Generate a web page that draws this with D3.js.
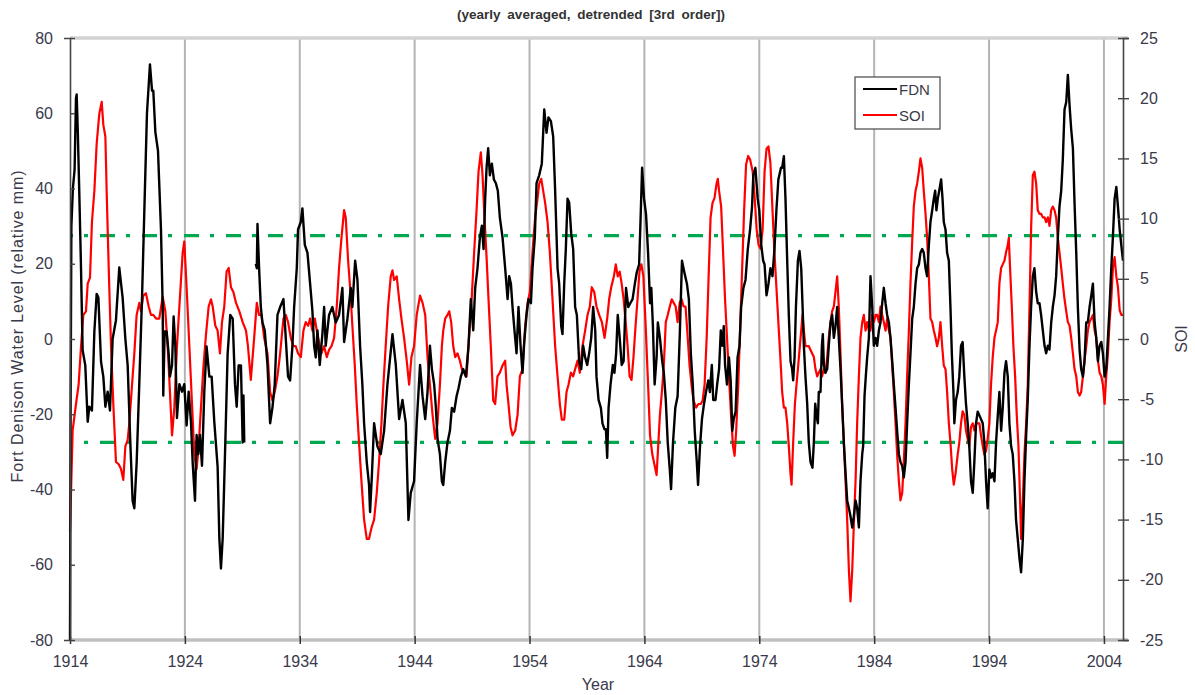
<!DOCTYPE html>
<html>
<head>
<meta charset="utf-8">
<script src="https://cdn.jsdelivr.net/npm/d3@7"></script>
<style>
  html, body { margin: 0; padding: 0; background: #fff; }
  svg { display: block; font-family: "Liberation Sans", Arial, sans-serif; }
</style>
</head>
<body>
<svg id="chart" width="1195" height="695"></svg>
<script>
// Fort Denison water level (mm, left axis), 12-month running mean, detrended
const fdnSeries = [
[1914.00,-80],[1914.05,-20],[1914.12,30],[1914.25,40],[1914.40,45],[1914.52,64],[1914.58,65],[1914.68,55],[1914.80,40],[1914.95,20],[1915.10,-3],[1915.33,-7],[1915.54,-22],[1915.68,-18],[1915.91,-19],[1916.12,2],[1916.32,12],[1916.47,11],[1916.70,-6],[1916.90,-10],[1917.08,-18],[1917.28,-14],[1917.48,-19],[1917.71,0],[1918.00,5],[1918.29,19],[1918.58,11],[1918.82,0],[1919.02,-7],[1919.25,-27.5],[1919.45,-43],[1919.60,-45],[1919.80,-33],[1920.03,-12],[1920.27,11],[1920.47,34],[1920.70,60],[1920.96,73],[1921.14,66],[1921.25,66],[1921.43,55],[1921.66,50],[1921.92,29],[1922.07,8.5],[1922.12,-15],[1922.24,2],[1922.41,2],[1922.59,-4],[1922.70,-10],[1922.88,-7],[1923.02,6],[1923.17,-2],[1923.31,-21],[1923.52,-12],[1923.75,-14],[1923.95,-12],[1924.15,-23],[1924.33,-14],[1924.53,-22],[1924.68,-33],[1924.88,-43],[1925.02,-25.5],[1925.17,-30.6],[1925.31,-25.5],[1925.49,-33.7],[1925.69,-14],[1925.89,-2],[1926.13,-10],[1926.33,-10],[1926.56,-22],[1926.85,-34],[1927.00,-53],[1927.14,-61],[1927.29,-53],[1927.52,-27.5],[1927.72,-4],[1927.95,6.4],[1928.16,5.4],[1928.36,-12],[1928.51,-18],[1928.68,-7],[1928.88,-7],[1929.03,-27.5],[1929.10,-15],[1929.17,-27.5],
[1929.60,null],
[1930.17,20],[1930.26,18.8],[1930.32,30.6],[1930.46,18.8],[1930.61,8.5],[1930.75,4.4],[1930.95,2.3],[1931.19,-6.9],[1931.42,-22.4],[1931.62,-18.3],[1931.82,-12.1],[1932.06,6.4],[1932.29,8.5],[1932.58,10.6],[1932.78,0.3],[1932.98,-10],[1933.16,-11],[1933.36,-1.8],[1933.51,8.5],[1933.74,18.8],[1933.85,29.1],[1934.09,31.1],[1934.23,34.7],[1934.44,25],[1934.67,22.9],[1934.90,14.7],[1935.10,7.5],[1935.25,-1.8],[1935.39,-4.9],[1935.54,2.3],[1935.74,-6.9],[1935.97,1.3],[1936.12,8.5],[1936.26,-1.8],[1936.55,6.4],[1936.84,8.5],[1937.13,4.4],[1937.42,6.4],[1937.71,13.6],[1937.86,-0.8],[1938.15,5.4],[1938.44,13.6],[1938.58,8.5],[1938.82,20.8],[1939.02,15.7],[1939.25,-1.8],[1939.45,-12.1],[1939.60,-22.4],[1939.83,-32.7],[1940.03,-38.8],[1940.12,-46],[1940.27,-36.8],[1940.47,-22.4],[1940.76,-28.5],[1941.05,-30.6],[1941.34,-24.4],[1941.63,-12.1],[1942.07,1.3],[1942.36,-6.9],[1942.65,-21.3],[1942.94,-16.2],[1943.23,-22.4],[1943.46,-48.1],[1943.66,-40.9],[1943.95,-37.8],[1944.18,-22.4],[1944.47,-6.9],[1944.69,-15.2],[1944.92,-21.3],[1945.12,-14.1],[1945.33,-1.8],[1945.50,-8],[1945.70,-12.1],[1945.85,-18.3],[1945.99,-26.5],[1946.20,-30.6],[1946.37,-37.8],[1946.49,-38.8],[1946.66,-32.7],[1946.86,-27.5],[1947.07,-24.4],[1947.24,-18.3],[1947.44,-19.3],[1947.65,-15.2],[1947.82,-13.1],[1948.02,-10],[1948.23,-8],[1948.46,-10],[1948.69,-1.8],[1948.89,10.6],[1949.10,2.3],[1949.27,13.6],[1949.47,18.8],[1949.68,27],[1949.85,30.1],[1950.00,23.9],[1950.14,37.3],[1950.26,45.5],[1950.40,50.7],[1950.55,43.5],[1950.72,46.6],[1950.90,42.4],[1951.07,41.4],[1951.24,39.4],[1951.42,32.2],[1951.65,27],[1951.88,18.8],[1952.09,10.6],[1952.23,16.7],[1952.38,14.7],[1952.52,8.5],[1952.69,2.3],[1952.87,-3.8],[1953.04,8.5],[1953.22,-1.8],[1953.39,-9],[1953.54,-0.8],[1953.74,6.4],[1953.91,10.6],[1954.12,9.5],[1954.26,18.8],[1954.46,27],[1954.61,41.4],[1954.84,43.5],[1955.07,46.6],[1955.28,61],[1955.48,54.8],[1955.65,58.9],[1955.86,57.9],[1956.06,53.8],[1956.23,39.4],[1956.44,18.8],[1956.58,14.7],[1956.76,3.4],[1956.87,1.3],[1957.02,14.7],[1957.16,23.9],[1957.31,37.3],[1957.45,36.3],[1957.63,28],[1957.80,23.9],[1957.97,8.5],[1958.12,6.4],[1958.32,-5.9],[1958.50,-8],[1958.67,-1.8],[1958.84,-4.9],[1959.02,-6.9],[1959.19,-3.8],[1959.37,0.3],[1959.54,8.5],[1959.72,2.3],[1959.83,-10],[1960.01,-16.2],[1960.21,-18.3],[1960.35,-22.4],[1960.53,-24],[1960.65,-24],[1960.76,-31.6],[1960.88,-18.3],[1961.05,-12.1],[1961.25,-6.9],[1961.39,-9],[1961.54,-3.8],[1961.68,6.4],[1961.85,0.3],[1962.02,-6.9],[1962.19,-5.9],[1962.40,13.6],[1962.60,8.5],[1962.77,9.5],[1962.97,10.6],[1963.17,14.7],[1963.34,17.8],[1963.54,19.8],[1963.68,33.2],[1963.80,45.5],[1963.97,37.3],[1964.14,33.2],[1964.32,22.9],[1964.49,9.5],[1964.60,13.6],[1964.74,3.4],[1964.89,-12.1],[1965.06,-4.9],[1965.17,4.4],[1965.35,0.3],[1965.55,-5.9],[1965.69,-9],[1965.86,-16.2],[1966.03,-27.5],[1966.21,-34.7],[1966.32,-39.9],[1966.49,-27.5],[1966.69,-18.3],[1966.89,-15.2],[1967.07,0.3],[1967.27,20.8],[1967.47,17.8],[1967.70,14.7],[1967.87,10.6],[1968.04,-3.8],[1968.21,-12.1],[1968.38,-24.4],[1968.56,-32.7],[1968.67,-38.8],[1968.84,-28.5],[1969.01,-21.3],[1969.19,-17.2],[1969.36,-14.1],[1969.56,-11],[1969.70,-14.1],[1969.87,-6.9],[1969.99,-16.2],[1970.19,-16.2],[1970.33,-12.1],[1970.50,-8],[1970.65,2.3],[1970.79,-1.8],[1970.91,3.4],[1971.02,-6.9],[1971.19,-12.1],[1971.36,-4.9],[1971.51,-11],[1971.65,-24.4],[1971.77,-21.3],[1971.94,-19.3],[1972.11,-4.9],[1972.28,-1.8],[1972.42,8.5],[1972.62,13.6],[1972.80,15.7],[1973.00,23.9],[1973.20,29.1],[1973.37,35.2],[1973.48,43.5],[1973.66,45.5],[1973.86,37.3],[1974.00,34.2],[1974.17,25],[1974.34,20.8],[1974.46,19.8],[1974.63,11.6],[1974.80,14.7],[1974.97,18.8],[1975.15,16.7],[1975.32,23.9],[1975.49,34.2],[1975.66,42.4],[1975.89,45.5],[1975.99,45.5],[1976.14,48.6],[1976.28,37.3],[1976.43,20.8],[1976.57,6.4],[1976.72,-5.9],[1976.86,-8],[1976.95,-11],[1977.07,-4.9],[1977.19,8.5],[1977.36,20.8],[1977.50,23.4],[1977.65,18.8],[1977.77,8.5],[1977.88,-1.8],[1978.02,-10],[1978.17,-17.2],[1978.31,-27.5],[1978.46,-32.7],[1978.63,-34.2],[1978.75,-27.5],[1978.87,-17.2],[1978.98,-20.3],[1979.10,-22.4],[1979.18,-14.1],[1979.33,-14.1],[1979.45,-1.8],[1979.53,1.3],[1979.62,-6.9],[1979.76,-9],[1979.91,-8],[1980.05,-1.8],[1980.20,4.4],[1980.34,6.4],[1980.49,0.3],[1980.63,3.4],[1980.78,8.5],[1980.92,0.3],[1981.07,-8],[1981.21,-17.2],[1981.36,-27.5],[1981.51,-35.7],[1981.65,-42.9],[1981.80,-45],[1981.94,-47.1],[1982.09,-50.1],[1982.23,-47.1],[1982.38,-42.9],[1982.52,-45],[1982.67,-50.1],[1982.81,-37.8],[1982.96,-30.6],[1983.04,-28.5],[1983.16,-15.2],[1983.27,-10],[1983.39,-4.9],[1983.54,0.3],[1983.68,16.7],[1983.83,8.5],[1983.97,-1.8],[1984.12,0.3],[1984.26,-1.8],[1984.41,2.3],[1984.55,4.4],[1984.70,9.5],[1984.84,13.6],[1984.99,9.5],[1985.13,6.4],[1985.28,4.4],[1985.42,0.3],[1985.57,-5.9],[1985.71,-12.1],[1985.86,-18.3],[1986.00,-24.4],[1986.15,-30.6],[1986.29,-32.7],[1986.44,-33.7],[1986.58,-36.8],[1986.73,-32.7],[1986.87,-22.4],[1987.02,-12.1],[1987.16,-3.8],[1987.31,5.4],[1987.45,8.5],[1987.60,14.7],[1987.74,18.8],[1987.89,19.8],[1988.03,22.9],[1988.18,23.9],[1988.32,22.9],[1988.47,18.8],[1988.61,16.7],[1988.76,25],[1988.90,31.1],[1989.05,34.2],[1989.19,37.3],[1989.31,39.4],[1989.42,34.2],[1989.54,37.3],[1989.72,40.4],[1989.83,42.4],[1989.95,37.3],[1990.06,31.1],[1990.21,29.1],[1990.35,22.9],[1990.50,20.8],[1990.64,8.5],[1990.76,-3.8],[1990.90,-14.1],[1990.98,-22.4],[1991.12,-16.2],[1991.27,-14.1],[1991.41,-10],[1991.56,-1.8],[1991.70,-0.8],[1991.85,-10],[1991.99,-17.2],[1992.14,-22.4],[1992.28,-28.5],[1992.43,-37.8],[1992.58,-40.9],[1992.72,-32.7],[1992.87,-22.4],[1993.01,-19.3],[1993.16,-20.3],[1993.30,-21.3],[1993.45,-22.4],[1993.59,-27.5],[1993.74,-37.8],[1993.88,-45],[1994.03,-34.7],[1994.17,-36.8],[1994.32,-35.7],[1994.47,-37.8],[1994.61,-27.5],[1994.76,-20.3],[1994.90,-14.1],[1995.05,-24.4],[1995.19,-18.3],[1995.34,-9],[1995.48,-5.9],[1995.63,-10],[1995.77,-22.4],[1995.92,-28.5],[1996.06,-30.6],[1996.21,-37.8],[1996.35,-48.1],[1996.50,-53.2],[1996.65,-58.4],[1996.79,-62],[1996.94,-53.2],[1997.08,-37.8],[1997.23,-25.5],[1997.37,-16.2],[1997.52,-1.8],[1997.66,8.5],[1997.81,16.7],[1997.95,18.8],[1998.10,12.6],[1998.24,9.5],[1998.39,9.5],[1998.53,6.4],[1998.68,2.3],[1998.83,-1.8],[1998.97,-3.8],[1999.12,-1.8],[1999.26,-2.8],[1999.41,4.4],[1999.55,8.5],[1999.70,11.6],[1999.84,16.7],[1999.99,27],[2000.13,35.2],[2000.28,39.4],[2000.42,47.6],[2000.57,61],[2000.72,63],[2000.86,70.2],[2001.01,62],[2001.15,55.8],[2001.30,50.7],[2001.44,36.3],[2001.59,22.9],[2001.73,8.5],[2001.88,-2.8],[2002.02,-8],[2002.17,-10],[2002.31,-5.9],[2002.46,4.4],[2002.60,4.4],[2002.75,8.5],[2002.90,11.6],[2003.04,14.7],[2003.19,4.4],[2003.33,0.3],[2003.48,-5.9],[2003.62,-1.8],[2003.77,-0.8],[2003.91,-3.8],[2004.06,-10],[2004.20,-8],[2004.35,0.3],[2004.49,8.5],[2004.64,18.8],[2004.78,27],[2004.93,37.3],[2005.08,40.4],[2005.22,35.2],[2005.37,29.1],[2005.51,25],[2005.66,20.8]
];

// Southern Oscillation Index (right axis), 12-month running mean, detrended
const soiSeries = [
[1914.00,-16.0],[1914.23,-7.6],[1914.52,-5.4],[1914.75,-3.8],[1914.96,-0.6],[1915.16,2.0],[1915.39,2.3],[1915.54,4.6],[1915.74,5.1],[1915.91,9.7],[1916.12,12.3],[1916.32,16.2],[1916.55,18.7],[1916.76,19.7],[1916.90,17.8],[1917.08,16.8],[1917.19,12.3],[1917.37,5.9],[1917.57,-0.6],[1917.77,-5.4],[1918.00,-10.2],[1918.24,-10.4],[1918.44,-10.8],[1918.64,-11.7],[1918.82,-8.9],[1919.02,-8.4],[1919.16,-7.0],[1919.40,-3.8],[1919.60,-1.2],[1919.80,2.0],[1920.03,3.0],[1920.18,2.3],[1920.38,3.6],[1920.61,3.8],[1920.85,2.7],[1921.05,2.0],[1921.25,2.0],[1921.49,1.7],[1921.77,1.7],[1922.07,3.5],[1922.30,2.3],[1922.50,-0.6],[1922.70,-4.4],[1922.88,-8.0],[1923.08,-5.7],[1923.31,-0.6],[1923.52,2.7],[1923.81,7.2],[1923.95,8.1],[1924.15,4.3],[1924.39,-0.6],[1924.62,-5.4],[1924.82,-9.6],[1925.02,-10.8],[1925.20,-8.9],[1925.40,-5.7],[1925.60,-2.5],[1925.84,0.4],[1926.07,2.7],[1926.27,3.3],[1926.42,2.7],[1926.65,1.1],[1926.85,0.7],[1927.05,-1.2],[1927.23,1.4],[1927.43,2.7],[1927.63,5.6],[1927.81,5.9],[1928.01,4.3],[1928.22,3.9],[1928.45,3.0],[1928.74,2.3],[1929.03,1.4],[1929.32,0.7],[1929.49,-0.6],[1929.74,-3.4],[1930.03,0.1],[1930.26,3.0],[1930.46,2.0],[1930.66,2.0],[1930.90,0.1],[1931.19,-1.2],[1931.42,-4.4],[1931.62,-5.1],[1931.82,-4.4],[1932.06,-3.1],[1932.29,-1.2],[1932.58,1.7],[1932.78,2.0],[1932.98,1.4],[1933.22,0.1],[1933.45,-0.6],[1933.65,-0.6],[1933.85,-1.2],[1934.09,-1.5],[1934.32,0.7],[1934.52,1.4],[1934.73,1.1],[1934.90,1.7],[1935.10,0.7],[1935.31,1.7],[1935.48,0.7],[1935.68,-0.3],[1935.89,-1.2],[1936.12,-0.6],[1936.35,-1.5],[1936.55,-0.9],[1936.76,-0.6],[1936.99,0.1],[1937.22,2.7],[1937.42,5.9],[1937.63,8.4],[1937.86,10.7],[1938.00,10.1],[1938.21,6.5],[1938.38,4.3],[1938.58,1.1],[1938.79,-2.2],[1938.96,-5.4],[1939.16,-8.6],[1939.37,-11.8],[1939.60,-15.0],[1939.83,-16.6],[1940.03,-16.6],[1940.24,-15.7],[1940.47,-15.0],[1940.70,-12.8],[1940.90,-10.2],[1941.11,-7.0],[1941.28,-3.8],[1941.48,-0.6],[1941.69,2.7],[1941.92,5.2],[1942.07,5.7],[1942.21,4.9],[1942.44,5.2],[1942.65,3.3],[1942.85,1.7],[1943.08,0.1],[1943.31,-1.8],[1943.52,-3.8],[1943.72,-1.5],[1943.95,-0.6],[1944.18,2.0],[1944.47,3.6],[1944.69,3.0],[1944.92,2.0],[1945.12,-1.5],[1945.33,-3.8],[1945.56,-6.3],[1945.79,-8.3],[1945.99,-7.0],[1946.20,-3.8],[1946.37,-0.6],[1946.49,0.7],[1946.66,1.7],[1946.86,2.0],[1947.01,2.3],[1947.18,1.4],[1947.36,-0.6],[1947.53,-1.5],[1947.73,-1.2],[1947.94,-1.8],[1948.11,-2.5],[1948.31,-2.8],[1948.52,-3.1],[1948.75,0.4],[1948.98,3.6],[1949.18,7.2],[1949.39,10.7],[1949.56,13.9],[1949.76,15.5],[1949.91,13.6],[1950.08,10.1],[1950.26,6.8],[1950.43,3.3],[1950.63,-0.6],[1950.84,-5.1],[1951.01,-5.4],[1951.21,-3.1],[1951.42,-2.8],[1951.65,-2.2],[1951.88,-1.8],[1952.00,-3.8],[1952.17,-5.4],[1952.35,-7.3],[1952.52,-8.0],[1952.75,-7.6],[1952.96,-6.3],[1953.16,-3.1],[1953.39,-2.5],[1953.62,1.1],[1953.83,3.0],[1954.03,3.9],[1954.26,7.2],[1954.49,10.1],[1954.70,11.7],[1954.84,12.9],[1955.02,13.3],[1955.19,12.3],[1955.36,11.3],[1955.57,9.7],[1955.77,7.2],[1956.00,3.3],[1956.23,-0.6],[1956.44,-3.1],[1956.64,-5.4],[1956.81,-6.7],[1957.02,-6.7],[1957.22,-4.4],[1957.39,-3.8],[1957.60,-2.8],[1957.80,-3.1],[1957.97,-2.5],[1958.18,-1.8],[1958.38,-2.8],[1958.61,-0.6],[1958.84,0.7],[1959.05,2.0],[1959.25,2.7],[1959.42,4.3],[1959.63,3.9],[1959.83,2.7],[1960.06,2.0],[1960.30,1.4],[1960.53,0.1],[1960.76,1.7],[1960.93,3.3],[1961.11,4.3],[1961.34,5.2],[1961.51,6.2],[1961.68,5.2],[1961.85,5.6],[1962.02,4.6],[1962.19,3.3],[1962.37,1.4],[1962.54,-0.6],[1962.71,-3.1],[1962.88,-3.4],[1963.05,-1.5],[1963.23,1.1],[1963.40,3.3],[1963.57,5.6],[1963.74,6.2],[1963.91,5.2],[1964.11,1.1],[1964.32,-3.8],[1964.49,-8.0],[1964.69,-9.6],[1964.89,-10.5],[1965.06,-11.3],[1965.20,-8.9],[1965.35,-6.3],[1965.52,-4.4],[1965.69,-2.2],[1965.86,1.4],[1966.03,2.0],[1966.21,2.7],[1966.38,3.3],[1966.55,3.0],[1966.72,2.7],[1966.89,1.4],[1967.07,3.0],[1967.24,3.3],[1967.41,2.7],[1967.58,2.7],[1967.75,0.4],[1967.93,-2.2],[1968.10,-3.8],[1968.27,-5.1],[1968.50,-5.7],[1968.70,-5.4],[1968.90,-5.4],[1969.07,-5.1],[1969.24,-3.8],[1969.42,0.1],[1969.59,5.2],[1969.76,10.1],[1969.93,11.3],[1970.10,11.7],[1970.28,12.9],[1970.39,13.3],[1970.50,12.3],[1970.68,11.0],[1970.85,7.2],[1971.02,3.3],[1971.19,0.1],[1971.36,-3.1],[1971.54,-6.3],[1971.71,-8.9],[1971.85,-9.7],[1971.99,-7.6],[1972.17,-3.8],[1972.34,1.1],[1972.51,5.9],[1972.68,10.7],[1972.85,14.5],[1973.03,15.2],[1973.20,14.9],[1973.43,13.9],[1973.60,11.7],[1973.77,9.1],[1973.94,7.8],[1974.11,7.5],[1974.29,9.1],[1974.46,13.9],[1974.63,15.8],[1974.80,16.0],[1974.97,14.6],[1975.15,10.7],[1975.32,7.2],[1975.49,4.3],[1975.66,1.4],[1975.85,-1.8],[1975.99,-4.4],[1976.14,-5.7],[1976.28,-5.7],[1976.43,-7.0],[1976.57,-8.9],[1976.72,-11.2],[1976.81,-12.1],[1976.95,-8.6],[1977.10,-5.4],[1977.24,-3.8],[1977.36,-2.5],[1977.53,-0.6],[1977.65,0.7],[1977.76,2.0],[1977.88,0.7],[1978.02,-0.6],[1978.31,-0.6],[1978.60,-1.2],[1978.75,-1.5],[1978.89,-2.5],[1979.04,-3.1],[1979.18,-2.8],[1979.33,-2.5],[1979.47,-3.1],[1979.62,-2.5],[1979.76,-2.8],[1979.91,-1.5],[1980.05,0.1],[1980.20,1.4],[1980.34,2.3],[1980.49,2.7],[1980.63,3.9],[1980.78,5.2],[1980.92,2.7],[1981.07,-1.2],[1981.21,-5.4],[1981.36,-8.6],[1981.51,-11.8],[1981.65,-15.0],[1981.80,-19.2],[1981.94,-21.8],[1982.09,-19.2],[1982.23,-15.4],[1982.38,-11.8],[1982.52,-7.0],[1982.67,-3.1],[1982.81,0.1],[1982.96,1.4],[1983.10,2.0],[1983.25,0.7],[1983.39,1.4],[1983.54,0.7],[1983.68,0.7],[1983.83,2.0],[1983.97,1.4],[1984.12,2.0],[1984.26,2.0],[1984.41,1.4],[1984.55,2.7],[1984.70,2.0],[1984.84,1.4],[1984.99,0.7],[1985.13,1.7],[1985.28,0.7],[1985.42,0.1],[1985.57,-2.2],[1985.71,-4.4],[1985.86,-7.0],[1986.00,-9.6],[1986.15,-11.8],[1986.29,-13.4],[1986.44,-12.8],[1986.58,-10.2],[1986.73,-7.0],[1986.87,-3.1],[1987.02,0.7],[1987.16,4.6],[1987.31,8.1],[1987.45,11.0],[1987.60,12.3],[1987.74,12.9],[1987.89,13.9],[1988.03,15.0],[1988.18,14.2],[1988.32,12.3],[1988.47,10.4],[1988.61,8.4],[1988.76,5.2],[1988.90,1.7],[1989.05,1.4],[1989.19,0.7],[1989.34,0.1],[1989.48,-0.6],[1989.63,0.1],[1989.77,1.4],[1989.92,-0.6],[1990.06,-2.2],[1990.21,-2.5],[1990.35,-4.4],[1990.50,-7.0],[1990.64,-8.6],[1990.79,-10.8],[1990.93,-12.1],[1991.08,-11.2],[1991.27,-9.6],[1991.41,-8.6],[1991.56,-7.0],[1991.70,-6.0],[1991.85,-6.3],[1991.99,-7.6],[1992.14,-8.3],[1992.28,-8.9],[1992.43,-7.3],[1992.58,-7.0],[1992.72,-7.6],[1992.87,-7.0],[1993.16,-7.0],[1993.30,-8.0],[1993.45,-8.9],[1993.59,-9.6],[1993.74,-9.3],[1993.88,-8.3],[1994.03,-7.0],[1994.17,-3.8],[1994.32,-1.5],[1994.47,0.1],[1994.61,0.7],[1994.76,1.4],[1994.90,4.6],[1995.05,5.9],[1995.19,6.2],[1995.34,6.5],[1995.48,7.2],[1995.63,7.8],[1995.72,8.4],[1995.83,5.9],[1995.98,2.7],[1996.12,-0.6],[1996.27,-3.1],[1996.41,-6.3],[1996.56,-8.9],[1996.70,-13.4],[1996.79,-16.6],[1996.94,-13.4],[1997.08,-9.6],[1997.23,-7.0],[1997.37,-3.8],[1997.52,2.7],[1997.66,9.1],[1997.81,13.6],[1997.95,13.9],[1998.10,12.9],[1998.24,10.7],[1998.39,10.4],[1998.53,10.4],[1998.68,10.1],[1998.83,10.1],[1998.97,9.7],[1999.12,10.1],[1999.26,9.4],[1999.41,10.7],[1999.55,11.0],[1999.70,10.7],[1999.84,10.1],[1999.99,8.4],[2000.13,7.2],[2000.28,5.9],[2000.42,4.6],[2000.57,3.3],[2000.72,2.3],[2000.86,1.4],[2001.01,1.1],[2001.15,0.1],[2001.30,-1.2],[2001.44,-2.5],[2001.59,-3.1],[2001.73,-4.4],[2001.88,-4.7],[2002.02,-4.4],[2002.17,-3.1],[2002.31,-1.8],[2002.46,-0.6],[2002.60,0.7],[2002.75,1.4],[2002.90,1.7],[2003.04,2.0],[2003.19,0.7],[2003.33,0.1],[2003.48,-1.8],[2003.62,-2.8],[2003.77,-3.1],[2003.91,-3.8],[2004.06,-5.4],[2004.20,-3.1],[2004.35,-1.2],[2004.49,1.4],[2004.64,3.3],[2004.78,5.9],[2004.93,6.8],[2005.08,5.2],[2005.22,4.3],[2005.37,2.4],[2005.51,2.0],[2005.66,2.0]
];

// axis ticks and reference bands
const yearTicks = [1914, 1924, 1934, 1944, 1954, 1964, 1974, 1984, 1994, 2004];
const levelTicks = [-80, -60, -40, -20, 0, 20, 40, 60, 80];
const soiTicks = [-25, -20, -15, -10, -5, 0, 5, 10, 15, 20, 25];
const levelBands = [27.5, -27.5];
const yearRange = [1914, 2005.66];

const svg = d3.select("#chart");
const plotLeft = 70, plotRight = 1123, plotTop = 38, plotBottom = 640;

const x = d3.scaleLinear().domain(yearRange).range([plotLeft, plotRight]);
const yL = d3.scaleLinear().domain([-80, 80]).range([plotBottom, plotTop]);
const yR = d3.scaleLinear().domain([-25, 25]).range([plotBottom, plotTop]);

const textCol = "#3a3a4a";
const fontFam = "Liberation Sans, Arial, sans-serif";
const plainNum = d => String(d);   // ASCII hyphen for negatives

// vertical gridlines at the decade ticks
svg.append("g").selectAll("line")
  .data(yearTicks.slice(1))
  .join("line")
  .attr("x1", d => x(d)).attr("x2", d => x(d))
  .attr("y1", plotTop).attr("y2", plotBottom)
  .attr("stroke", "#b4b4b4").attr("stroke-width", 2);

// top border of the plot
svg.append("line")
  .attr("x1", plotLeft).attr("x2", plotRight + 5)
  .attr("y1", yL(80)).attr("y2", yL(80))
  .attr("stroke", "#d2d2d2").attr("stroke-width", 3.5);

// green threshold lines
svg.append("g").selectAll("line")
  .data(levelBands)
  .join("line")
  .attr("x1", plotLeft).attr("x2", plotRight)
  .attr("y1", d => yL(d)).attr("y2", d => yL(d))
  .attr("stroke", "#00a84f").attr("stroke-width", 3.2)
  .attr("stroke-dasharray", "15,11,4,12")
  .attr("stroke-dashoffset", 12);

// data lines
const lineL = d3.line()
  .defined(d => d[1] !== null)
  .x(d => x(d[0])).y(d => yL(d[1]));
const lineR = d3.line()
  .x(d => x(d[0])).y(d => yR(d[1]));

svg.append("path").datum(soiSeries)
  .attr("d", lineR)
  .attr("fill", "none").attr("stroke", "#ff0000")
  .attr("stroke-width", 2.2).attr("stroke-linejoin", "round");

svg.append("path").datum(fdnSeries)
  .attr("d", lineL)
  .attr("fill", "none").attr("stroke", "#000")
  .attr("stroke-width", 2.4).attr("stroke-linejoin", "round");

// bottom axis (year)
const xAxis = svg.append("g")
  .attr("transform", `translate(0,${plotBottom})`)
  .call(d3.axisBottom(x).tickValues(yearTicks).tickFormat(plainNum).tickSize(4).tickPadding(12));
xAxis.select(".domain").remove();
xAxis.selectAll(".tick line").attr("y1", -4).attr("stroke", "#333").attr("stroke-width", 1.5);
xAxis.insert("line", ":first-child")
  .attr("x1", plotLeft).attr("x2", plotRight + 5)
  .attr("stroke", "#c0c0c0").attr("stroke-width", 3.5);
xAxis.selectAll(".tick text")
  .attr("fill", textCol).attr("font-size", 16)
  .attr("font-family", fontFam);

// left axis (water level)
const leftAxis = svg.append("g")
  .attr("transform", `translate(${plotLeft},0)`)
  .call(d3.axisLeft(yL).tickValues(levelTicks).tickFormat(plainNum).tickSize(6).tickPadding(11));
leftAxis.select(".domain").attr("stroke", "#444").attr("stroke-width", 1.6);
leftAxis.selectAll(".tick line").attr("x2", 5).attr("stroke", "#444").attr("stroke-width", 1.4);
leftAxis.selectAll(".tick text")
  .attr("fill", textCol).attr("font-size", 16)
  .attr("font-family", fontFam);

// right axis (SOI)
const rightAxis = svg.append("g")
  .attr("transform", `translate(${plotRight},0)`)
  .call(d3.axisRight(yR).tickValues(soiTicks).tickFormat(plainNum).tickSize(6).tickPadding(11));
rightAxis.select(".domain").attr("stroke", "#444").attr("stroke-width", 1.6);
rightAxis.selectAll(".tick line").attr("x1", -5).attr("stroke", "#444").attr("stroke-width", 1.4);
rightAxis.selectAll(".tick text")
  .attr("fill", textCol).attr("font-size", 16)
  .attr("font-family", fontFam);

// titles
svg.append("text")
  .attr("x", 591).attr("y", 19)
  .attr("text-anchor", "middle")
  .attr("font-size", 13.5).attr("font-weight", "bold")
  .attr("word-spacing", 3)
  .attr("fill", "#333")
  .text("(yearly averaged, detrended [3rd order])");

svg.append("text")
  .attr("transform", "translate(23,326) rotate(-90)")
  .attr("text-anchor", "middle")
  .attr("font-size", 16)
  .attr("letter-spacing", 0.9)
  .attr("fill", textCol)
  .text("Fort Denison Water Level (relative mm)");

svg.append("text")
  .attr("transform", "translate(1187,339) rotate(-90)")
  .attr("text-anchor", "middle")
  .attr("font-size", 16)
  .attr("fill", textCol)
  .text("SOI");

svg.append("text")
  .attr("x", 598).attr("y", 690)
  .attr("text-anchor", "middle")
  .attr("font-size", 16)
  .attr("fill", textCol)
  .text("Year");

// legend
const legendItems = [
  { name: "FDN", color: "#000" },
  { name: "SOI", color: "#ff0000" }
];
const legend = svg.append("g").attr("transform", "translate(855,77)");
legend.append("rect")
  .attr("width", 85).attr("height", 52)
  .attr("fill", "#fff").attr("stroke", "#555").attr("stroke-width", 1.3);
const li = legend.selectAll("g.item")
  .data(legendItems)
  .join("g")
  .attr("class", "item")
  .attr("transform", (d, i) => `translate(0,${12 + i * 26})`);
li.append("line")
  .attr("x1", 8).attr("x2", 42)
  .attr("stroke", d => d.color).attr("stroke-width", 2.2);
li.append("text")
  .attr("x", 44).attr("y", 5.5)
  .attr("font-size", 15)
  .attr("fill", textCol)
  .text(d => d.name);
</script>
</body>
</html>
